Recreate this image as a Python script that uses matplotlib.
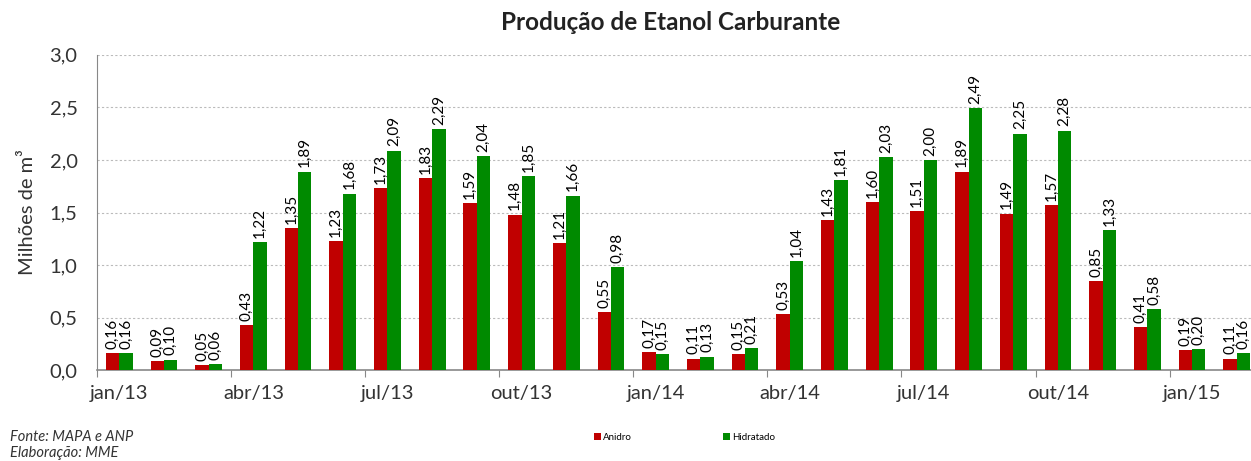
import numpy as np
import matplotlib
matplotlib.use("Agg")
import matplotlib.pyplot as plt

plt.rcParams['font.family'] = ['Lato', 'DejaVu Sans']

# meses de jan/13 a fev/15
meses = ["jan/13", "fev/13", "mar/13", "abr/13", "mai/13", "jun/13", "jul/13", "ago/13", "set/13",
         "out/13", "nov/13", "dez/13", "jan/14", "fev/14", "mar/14", "abr/14", "mai/14", "jun/14",
         "jul/14", "ago/14", "set/14", "out/14", "nov/14", "dez/14", "jan/15", "fev/15"]
anidro = [0.16, 0.09, 0.05, 0.43, 1.35, 1.23, 1.73, 1.83, 1.59, 1.48, 1.21, 0.55, 0.17,
          0.11, 0.15, 0.53, 1.43, 1.60, 1.51, 1.89, 1.49, 1.57, 0.85, 0.41, 0.19, 0.11]
hidratado = [0.16, 0.10, 0.06, 1.22, 1.89, 1.68, 2.09, 2.29, 2.04, 1.85, 1.66, 0.98, 0.15,
             0.13, 0.21, 1.04, 1.81, 2.03, 2.00, 2.49, 2.25, 2.28, 1.33, 0.58, 0.20, 0.16]

cor_anidro = "#C00000"
cor_hidratado = "#008A00"

fig = plt.figure(figsize=(12.51, 4.61), dpi=100)
ax = fig.add_axes([0.0775, 0.197, 1 - 0.0775, 0.684])

x = np.arange(len(meses))
w = 0.3
b1 = ax.bar(x - w / 2, anidro, w, color=cor_anidro, label="Anidro", zorder=3)
b2 = ax.bar(x + w / 2, hidratado, w, color=cor_hidratado, label="Hidratado", zorder=3)

def fmt(v):
    return f"{v:.2f}".replace(".", ",")

for bars, vals in ((b1, anidro), (b2, hidratado)):
    for r, v in zip(bars, vals):
        ax.text(r.get_x() + r.get_width() / 2, v + 0.04, fmt(v), rotation=90,
                ha="center", va="bottom", fontsize=11, color="#000000")

ax.set_xlim(-0.5, 25.32)
ax.set_ylim(0, 3.0)
ax.set_yticks(np.arange(0, 3.01, 0.5))
ax.set_yticklabels([f"{v:.1f}".replace(".", ",") for v in np.arange(0, 3.01, 0.5)],
                   fontsize=14.5, color="#333333")
ax.tick_params(axis="y", length=0, pad=14)

# ticks nos limites de trimestre, rótulos no centro do mês
ax.set_xticks(np.arange(-0.5, 26, 3))
ax.set_xticklabels([])
ax.set_xticks(np.arange(0, 26, 3), minor=True)
ax.set_xticklabels([meses[i] for i in range(0, 26, 3)], minor=True, fontsize=14.5, color="#333333")
ax.tick_params(axis="x", which="major", length=5, color="#888888", direction="out")
ax.tick_params(axis="x", which="minor", length=0, pad=11)

ax.yaxis.grid(True, linestyle=(0, (2, 2)), color="#BBBBBB", linewidth=0.8, zorder=0)
for s in ("top", "right"):
    ax.spines[s].set_visible(False)
ax.spines["left"].set_color("#888888")
ax.spines["bottom"].set_color("#888888")
ax.spines["bottom"].set_linewidth(1.2)

ax.set_ylabel("Milhões de m³", fontsize=14.5, color="#333333", labelpad=10)

fig.text(0.536, 0.952, "Produção de Etanol Carburante", ha="center", va="center",
         fontsize=17.5, fontweight="bold", color="#222222")

fig.legend(handles=[b1, b2], loc="center", bbox_to_anchor=(0.547, 0.052), ncol=2,
           frameon=False, fontsize=7, handlelength=0.7, handleheight=0.7,
           handletextpad=0.2, columnspacing=9.4)

fig.text(0.008, 0.052, "Fonte: MAPA e ANP", fontsize=10.5, style="italic", color="#333333", va="center")
fig.text(0.008, 0.018, "Elaboração: MME", fontsize=10.5, style="italic", color="#333333", va="center")

fig.savefig("out.png", dpi=100)
